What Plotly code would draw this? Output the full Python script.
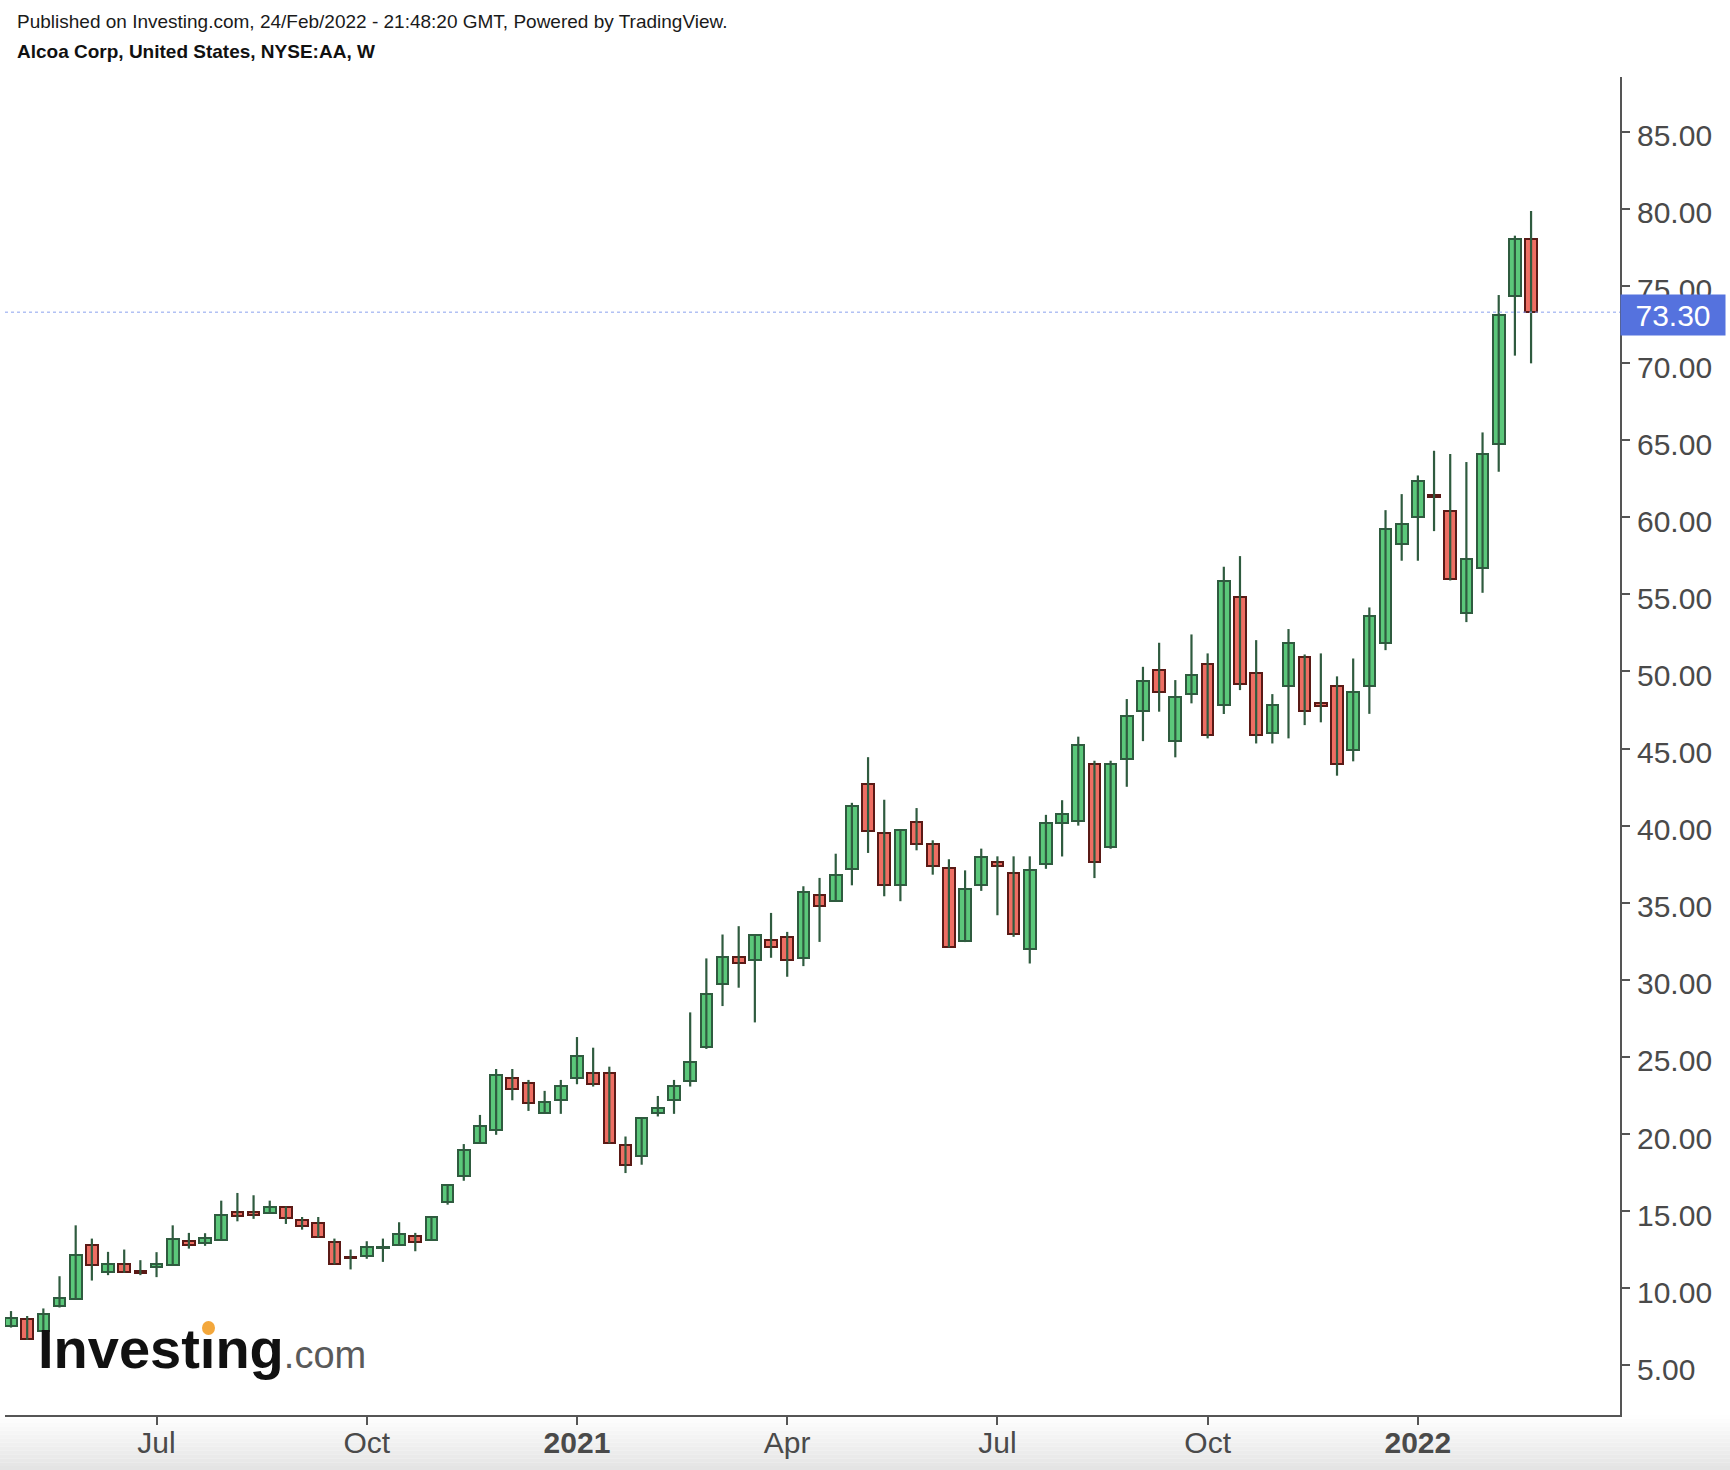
import pandas as pd
import plotly.graph_objects as go

# ---- data (weekly bars, NYSE:AA) ----
START_WEEK = "2020-05-04"
OPEN = [7.55, 7.98, 7.22, 8.82, 9.30, 12.83, 11.04, 11.60, 11.15, 11.37,
        11.54, 13.05, 12.96, 13.14, 14.95, 14.95, 14.90, 15.27, 14.41, 14.24,
        13.01, 12.00, 12.08, 12.58, 12.79, 13.37, 13.16, 15.60, 17.30, 19.43,
        20.27, 23.66, 23.29, 21.35, 22.22, 23.62, 23.98, 23.98, 19.30, 18.55,
        21.35, 22.22, 23.45, 25.67, 29.70, 31.49, 31.28, 32.57, 32.75, 31.43,
        35.53, 35.10, 37.21, 42.67, 39.54, 36.18, 40.23, 38.83, 37.25, 32.51,
        36.18, 37.64, 36.93, 31.99, 37.50, 40.20, 40.30, 43.97, 38.60, 44.30,
        47.43, 50.09, 45.51, 48.51, 50.46, 47.82, 54.80, 49.92, 46.03, 49.05,
        50.95, 47.95, 49.04, 44.89, 49.04, 51.82, 58.26, 59.99, 61.45, 60.42,
        53.76, 56.72, 64.75, 74.35, 78.04]
HIGH = [8.52, 8.20, 8.69, 10.78, 14.08, 13.22, 12.36, 12.51, 11.82, 12.34,
        14.08, 13.59, 13.57, 15.68, 16.18, 16.03, 15.68, 15.30, 14.62, 14.62,
        13.22, 12.51, 13.05, 13.22, 14.28, 13.59, 14.65, 16.75, 19.35, 21.24,
        24.22, 24.22, 23.51, 22.80, 23.51, 26.29, 25.60, 24.37, 19.84, 21.05,
        22.47, 23.51, 27.89, 31.39, 32.94, 33.48, 32.95, 34.34, 33.11, 36.07,
        36.61, 38.18, 41.48, 44.44, 41.68, 39.75, 41.14, 39.05, 37.82, 37.10,
        38.51, 38.01, 38.01, 38.01, 40.70, 41.65, 45.77, 44.21, 44.21, 48.21,
        50.30, 51.86, 49.44, 52.40, 51.17, 56.79, 57.48, 52.03, 48.53, 52.75,
        51.10, 51.17, 49.68, 50.84, 54.15, 60.46, 61.50, 62.71, 64.31, 64.10,
        63.58, 65.50, 74.41, 78.26, 79.86]
LOW = [7.45, 6.65, 7.10, 8.75, 9.25, 10.50, 10.85, 11.00, 10.85, 10.72,
       11.50, 12.57, 12.75, 13.10, 14.34, 14.50, 14.85, 14.17, 13.80, 13.30,
       11.55, 11.22, 11.91, 11.71, 12.75, 12.40, 13.10, 15.42, 16.97, 19.40,
       19.95, 22.19, 21.50, 21.30, 21.31, 23.23, 23.08, 19.40, 17.47, 18.01,
       21.14, 21.31, 23.08, 25.52, 28.30, 29.49, 27.24, 31.43, 30.20, 30.89,
       32.46, 35.05, 36.13, 38.23, 35.42, 35.10, 38.40, 36.82, 32.10, 32.45,
       35.77, 34.19, 32.79, 31.06, 37.20, 38.00, 40.00, 36.60, 38.50, 42.52,
       45.48, 47.39, 44.43, 47.93, 45.66, 47.24, 48.79, 45.33, 45.33, 45.66,
       46.52, 46.70, 43.24, 44.17, 47.25, 51.38, 57.18, 57.18, 59.10, 55.90,
       53.20, 55.10, 62.95, 70.48, 69.98]
CLOSE = [8.09, 6.68, 8.30, 9.38, 12.14, 11.54, 11.58, 11.04, 11.00, 11.60,
         13.20, 12.79, 13.27, 14.78, 14.71, 14.75, 15.27, 14.56, 14.02, 13.33,
         11.58, 11.95, 12.66, 12.66, 13.55, 12.98, 14.60, 16.70, 18.96, 20.53,
         23.83, 22.93, 22.04, 22.09, 23.14, 25.04, 23.25, 19.43, 18.01, 21.03,
         21.72, 23.14, 24.70, 29.06, 31.49, 31.11, 32.90, 32.14, 31.28, 35.70,
         34.77, 36.78, 41.27, 39.65, 36.18, 39.69, 38.79, 37.38, 32.14, 35.87,
         37.97, 37.38, 33.00, 37.10, 40.20, 40.75, 45.23, 37.66, 43.97, 47.13,
         49.40, 48.66, 48.36, 49.74, 45.87, 55.86, 49.18, 45.87, 47.82, 51.82,
         47.43, 47.75, 44.03, 48.68, 53.59, 59.21, 59.53, 62.34, 61.30, 55.99,
         57.26, 64.07, 73.10, 78.04, 73.30]

TICK_DATES = ["2020-07-06", "2020-10-05", "2021-01-04", "2021-04-05",
              "2021-07-05", "2021-10-04", "2022-01-03"]
TICK_LABELS = ["Jul", "Oct", "<b>2021</b>", "Apr", "Jul", "Oct", "<b>2022</b>"]
Y_TICKS = [5, 10, 15, 20, 25, 30, 35, 40, 45, 50, 55, 60, 65, 70, 75, 80, 85]

HEADER_1 = "Published on Investing.com, 24/Feb/2022 - 21:48:20 GMT, Powered by TradingView."
HEADER_2 = "Alcoa Corp, United States, NYSE:AA, W"

# ---- styles ----
GREEN_FILL = "#5bc77a"
GREEN_LINE = "#2f5b3f"
RED_FILL = "#ee6e63"
RED_LINE = "#5a1a16"
TEXT = "#4a4a4a"
FONT = "Liberation Sans, Arial, sans-serif"

W, H = 1730, 1470
L, R, T, B = 5, 110, 77, 55
PW, PH = W - L - R, H - T - B
WEEK_MS = 7 * 24 * 3600 * 1000

dates = pd.date_range(START_WEEK, periods=len(OPEN), freq="7D")
last_close = CLOSE[-1]
n = len(OPEN)
up = [CLOSE[i] >= OPEN[i] for i in range(n)]

fig = go.Figure()

# wicks
wx, wy = [], []
for i in range(n):
    wx += [dates[i], dates[i], None]
    wy += [LOW[i], HIGH[i], None]
fig.add_trace(go.Scatter(x=wx, y=wy, mode="lines",
                         line=dict(color=GREEN_LINE, width=2.2),
                         hoverinfo="skip", showlegend=False))

# bodies
fig.add_trace(go.Bar(
    x=dates,
    base=[min(OPEN[i], CLOSE[i]) for i in range(n)],
    y=[abs(CLOSE[i] - OPEN[i]) for i in range(n)],
    width=0.72 * WEEK_MS,
    marker=dict(color=[GREEN_FILL if u else RED_FILL for u in up],
                line=dict(color=[GREEN_LINE if u else RED_LINE for u in up], width=2)),
    hoverinfo="skip", showlegend=False,
))

def px_to_paper_x(px):
    return (px - L) / PW

def px_to_paper_y(py):
    return (H - B - py) / PH

shapes = []
# bottom gray gradient
steps = 14
for k in range(steps):
    y0 = (H - B) + k * (B / steps)
    y1 = (H - B) + (k + 1) * (B / steps)
    g = int(255 - (255 - 228) * (k + 0.5) / steps)
    shapes.append(dict(type="rect", xref="paper", yref="paper",
                       x0=px_to_paper_x(0), x1=px_to_paper_x(W),
                       y0=px_to_paper_y(y1), y1=px_to_paper_y(y0),
                       fillcolor=f"rgb({g},{g},{g})", line=dict(width=0), layer="below"))
# last price line
shapes.append(dict(type="line", xref="paper", yref="y", x0=0, x1=1,
                   y0=last_close, y1=last_close,
                   line=dict(color="#8aa2ee", width=1, dash="dot"), layer="above"))
# orange dot of the logo
shapes.append(dict(type="circle", xref="paper", yref="paper",
                   x0=px_to_paper_x(202), x1=px_to_paper_x(215),
                   y0=px_to_paper_y(1335), y1=px_to_paper_y(1321),
                   fillcolor="#f3a73b", line=dict(width=0), layer="above"))

annotations = [
    dict(text=HEADER_1, xref="paper", yref="paper", x=px_to_paper_x(15), y=px_to_paper_y(21),
         xanchor="left", yanchor="middle", showarrow=False,
         font=dict(family=FONT, size=19, color="#1a1a1a")),
    dict(text="<b>" + HEADER_2 + "</b>", xref="paper", yref="paper", x=px_to_paper_x(15),
         y=px_to_paper_y(52), xanchor="left", yanchor="middle", showarrow=False,
         font=dict(family=FONT, size=19, color="#111111")),
]
# price axis labels (sit slightly below their ticks, as in the original)
for v in Y_TICKS:
    annotations.append(dict(text=f"{v:.2f}", xref="paper", yref="y", x=1, y=v,
                            xanchor="left", yanchor="middle", xshift=15, yshift=-4,
                            showarrow=False,
                            font=dict(family=FONT, size=30, color=TEXT)))
annotations += [
    dict(text=f"{last_close:.2f}", xref="paper", yref="y", x=1, y=last_close,
         xanchor="left", yanchor="middle", yshift=-3, showarrow=False, width=102, height=38,
         bgcolor="#5572de", font=dict(family=FONT, size=30, color="white"), align="center"),
    dict(text="<b>Investıng</b><span style='font-size:38px;color:#5a5a5a'>.com</span>",
         xref="paper", yref="paper", x=px_to_paper_x(36), y=px_to_paper_y(1348),
         xanchor="left", yanchor="middle", showarrow=False,
         font=dict(family=FONT, size=56, color="#111111")),
]

fig.update_layout(
    width=W, height=H,
    margin=dict(l=L, r=R, t=T, b=B),
    paper_bgcolor="white", plot_bgcolor="white",
    shapes=shapes, annotations=annotations,
    font=dict(family=FONT, color=TEXT),
    bargap=0,
    xaxis=dict(
        type="date",
        range=[dates[0] - pd.Timedelta(days=2.6), dates[0] + pd.Timedelta(days=696.5)],
        showgrid=False, zeroline=False,
        showline=True, linecolor="#555555", linewidth=2,
        ticks="outside", ticklen=8, tickwidth=2, tickcolor="#555555",
        tickvals=pd.to_datetime(TICK_DATES), ticktext=TICK_LABELS,
        tickfont=dict(family=FONT, size=30, color=TEXT),
        ticklabelstandoff=-8,
    ),
    yaxis=dict(
        side="right",
        range=[1.78, 88.55],
        showgrid=False, zeroline=False,
        showline=True, linecolor="#555555", linewidth=2,
        ticks="outside", ticklen=8, tickwidth=2, tickcolor="#555555",
        tickvals=Y_TICKS, showticklabels=False,
    ),
)

fig.write_html("out.html", config={"displayModeBar": False},
               post_script="document.body.style.margin='0px';")
